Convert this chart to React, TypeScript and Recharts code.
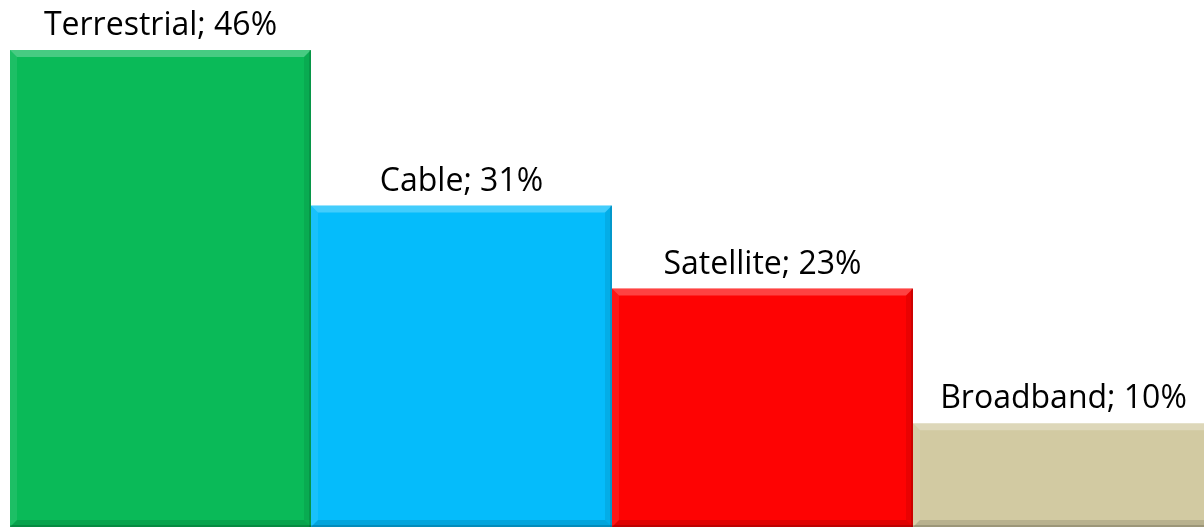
import React from "react";
import { BarChart, Bar, XAxis, YAxis, LabelList, Cell } from "recharts";

const categories = ["Terrestrial", "Cable", "Satellite", "Broadband"];
const shares = [46, 31, 23, 10];
const colors = ["#0ABA58", "#05BCFB", "#FE0303", "#D2CAA2"];

const data = categories.map((name, i) => ({ name, value: shares[i], fill: colors[i] }));

const BevelBar = (props: any) => {
  const { x, y, width, height, fill } = props;
  const b = 7;
  const x2 = x + width;
  const y2 = y + height;
  return (
    <g>
      <rect x={x} y={y} width={width} height={height} fill={fill} />
      <polygon
        points={`${x},${y} ${x2},${y} ${x2 - b},${y + b} ${x + b},${y + b}`}
        fill="#ffffff"
        fillOpacity={0.25}
      />
      <polygon
        points={`${x},${y} ${x + b},${y + b} ${x + b},${y2 - b} ${x},${y2}`}
        fill="#ffffff"
        fillOpacity={0.08}
      />
      <polygon
        points={`${x2},${y} ${x2},${y2} ${x2 - b},${y2 - b} ${x2 - b},${y + b}`}
        fill="#000000"
        fillOpacity={0.08}
      />
      <polygon
        points={`${x},${y2} ${x + b},${y2 - b} ${x2 - b},${y2 - b} ${x2},${y2}`}
        fill="#000000"
        fillOpacity={0.12}
      />
      <rect x={x2 - 2} y={y} width={2} height={height} fill="#000000" fillOpacity={0.12} />
      <rect x={x} y={y2 - 2} width={width} height={2} fill="#000000" fillOpacity={0.15} />
    </g>
  );
};

export default function App() {
  return (
    <div
      style={{
        position: "fixed",
        left: 8,
        top: 0,
        width: 1196,
        height: 528,
        overflow: "hidden",
      }}
    >
      <BarChart
        width={1210}
        height={528}
        data={data}
        margin={{ top: 50, right: 4, bottom: 1, left: 2 }}
        barCategoryGap={0}
        barGap={0}
      >
        <XAxis dataKey="name" hide />
        <YAxis hide domain={[0, 46]} />
        <Bar dataKey="value" isAnimationActive={false} shape={<BevelBar />}>
          {data.map((d, i) => (
            <Cell key={i} fill={d.fill} />
          ))}
          <LabelList
            dataKey="name"
            position="top"
            offset={15}
            content={(p: any) => {
              const { x, y, width, index } = p;
              return (
                <text
                  x={x + width / 2}
                  y={y - 15}
                  textAnchor="middle"
                  fontFamily="Open Sans"
                  fontSize={32}
                  fill="#000000"
                >
                  {`${categories[index]}; ${shares[index]}%`}
                </text>
              );
            }}
          />
        </Bar>
      </BarChart>
    </div>
  );
}
